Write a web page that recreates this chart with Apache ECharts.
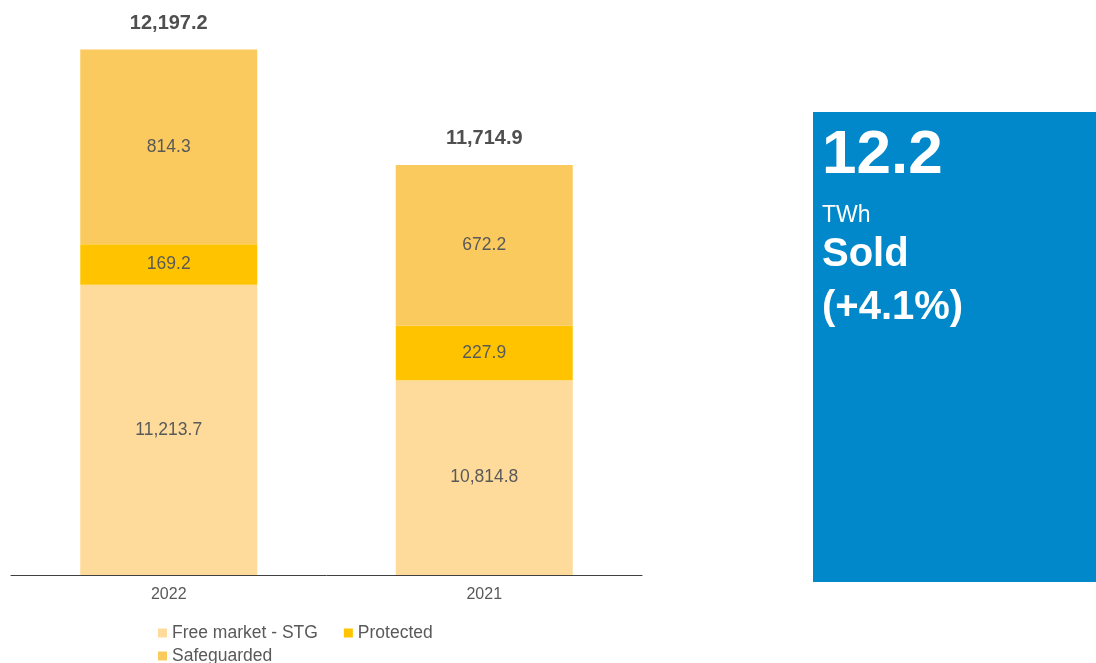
<!DOCTYPE html>
<html>
<head>
<meta charset="utf-8">
<title>Energy sold</title>
<script src="https://cdn.jsdelivr.net/npm/echarts@6/dist/echarts.min.js"></script>
<style>
  html, body { margin: 0; padding: 0; background: #ffffff; }
  #chart { width: 1096px; height: 663px; }
</style>
</head>
<body>
<div id="chart"></div>
<script>
// Energy sold by market segment (MWh thousands)
const years = ['2022', '2021'];
const freeMarket = [11213.7, 10814.8];
const protectedMkt = [169.2, 227.9];
const safeguarded = [814.3, 672.2];
const seriesNames = ['Free market - STG', 'Protected', 'Safeguarded'];

// Highlight panel text
const kpiValue = '12.2';
const kpiUnit = 'TWh';
const kpiLabel = 'Sold';
const kpiChange = '(+4.1%)';

const totals = years.map((_, i) => +(freeMarket[i] + protectedMkt[i] + safeguarded[i]).toFixed(1));

const fmt = v => Number(v).toLocaleString('en-US', { minimumFractionDigits: 1, maximumFractionDigits: 1 });
const FONT = '"Liberation Sans", Arial, sans-serif';
const GREY = '#595959';

const segLabel = {
  show: true,
  position: 'inside',
  color: GREY,
  fontFamily: FONT,
  fontSize: 17.5,
  formatter: p => fmt(p.value)
};

const legendText = { color: GREY, fontFamily: FONT, fontSize: 17.5 };

const chart = echarts.init(document.getElementById('chart'), null, { renderer: 'canvas' });

chart.setOption({
  animation: false,
  backgroundColor: '#ffffff',
  grid: { left: 11, right: 454, top: 25, bottom: 88, containLabel: false },
  xAxis: {
    type: 'category',
    data: years,
    axisTick: { show: false },
    axisLine: { lineStyle: { color: '#404040', width: 1 } },
    axisLabel: { color: GREY, fontFamily: FONT, fontSize: 16, margin: 12 }
  },
  yAxis: {
    type: 'value',
    min: 10000,
    max: 12300,
    show: false,
    splitLine: { show: false }
  },
  legend: [
    {
      data: [seriesNames[0], seriesNames[1]],
      left: 158, top: 624, padding: 0,
      itemWidth: 9, itemHeight: 9, itemGap: 26,
      icon: 'rect',
      textStyle: legendText
    },
    {
      data: [seriesNames[2]],
      left: 158, top: 647, padding: 0,
      itemWidth: 9, itemHeight: 9,
      icon: 'rect',
      textStyle: legendText
    }
  ],
  series: [
    {
      name: seriesNames[0], type: 'bar', stack: 'sold', barWidth: 177, clip: true,
      itemStyle: { color: '#FEDB9A' },
      label: segLabel,
      data: freeMarket
    },
    {
      name: seriesNames[1], type: 'bar', stack: 'sold', barWidth: 177, clip: true,
      itemStyle: { color: '#FFC300' },
      label: segLabel,
      data: protectedMkt
    },
    {
      name: seriesNames[2], type: 'bar', stack: 'sold', barWidth: 177, clip: true,
      itemStyle: { color: '#FBCA5E' },
      label: segLabel,
      data: safeguarded
    },
    {
      name: 'Total', type: 'scatter', symbolSize: 0, silent: true,
      itemStyle: { opacity: 1 },
      label: {
        show: true, position: 'top', distance: 16, opacity: 1,
        color: '#4f4f4f', fontFamily: FONT, fontSize: 20, fontWeight: 'bold',
        formatter: p => fmt(p.value)
      },
      data: totals
    }
  ],
  graphic: [
    {
      type: 'rect', left: 813, top: 112,
      shape: { width: 283, height: 470 },
      style: { fill: '#0088CA' }
    },
    {
      type: 'text', x: 822, y: 155.5,
      style: { text: kpiValue, fill: '#ffffff', font: 'bold 62px ' + FONT, verticalAlign: 'middle' }
    },
    {
      type: 'text', x: 822, y: 216,
      style: { text: kpiUnit, fill: '#ffffff', font: '23px ' + FONT, verticalAlign: 'middle' }
    },
    {
      type: 'text', x: 822, y: 255,
      style: { text: kpiLabel, fill: '#ffffff', font: 'bold 40px ' + FONT, verticalAlign: 'middle' }
    },
    {
      type: 'text', x: 822, y: 308,
      style: { text: kpiChange, fill: '#ffffff', font: 'bold 40px ' + FONT, verticalAlign: 'middle' }
    }
  ]
});
</script>
</body>
</html>
